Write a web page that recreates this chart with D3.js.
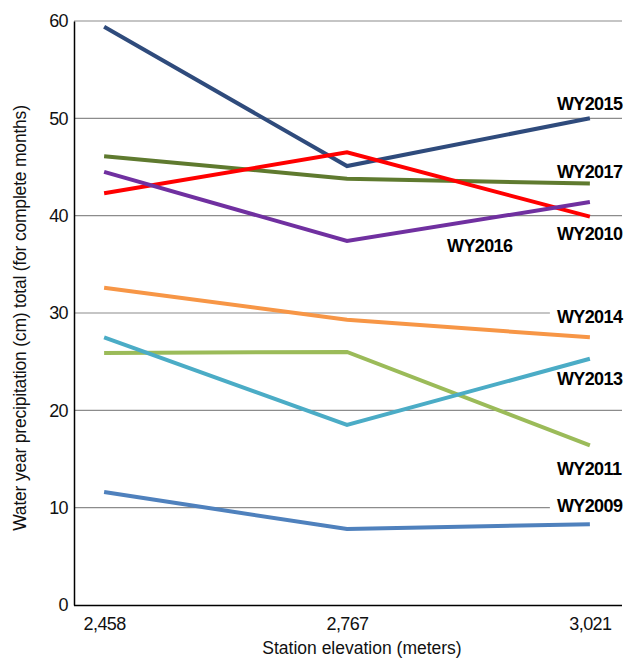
<!DOCTYPE html>
<html><head><meta charset="utf-8">
<script src="https://cdn.jsdelivr.net/npm/d3@7/dist/d3.min.js"></script>
<style>body{margin:0;background:#fff}svg{display:block}</style>
</head><body>
<svg id="c" width="624" height="658"></svg>
<script>
const elevations = ["2,458", "2,767", "3,021"];
const seriesNames = ["WY2015","WY2017","WY2010","WY2016","WY2014","WY2011","WY2013","WY2009"];
const wy2015 = [59.4, 45.1, 50.0];
const wy2017 = [46.1, 43.8, 43.3];
const wy2010 = [42.3, 46.5, 39.9];
const wy2016 = [44.5, 37.4, 41.4];
const wy2014 = [32.6, 29.3, 27.5];
const wy2011 = [25.9, 26.0, 16.4];
const wy2013 = [27.5, 18.5, 25.3];
const wy2009 = [11.6, 7.8, 8.3];
const yTicks = [0, 10, 20, 30, 40, 50, 60];

const values = [wy2015, wy2017, wy2010, wy2016, wy2014, wy2011, wy2013, wy2009];
const colors = ["#2F4B7C","#5F7A2F","#FF0000","#7030A0","#F79646","#9BBB59","#4BACC6","#4F81BD"];
// label placement: [point index, dx, dy] relative to that data point
const labelPos = [[2,-33,-8],[2,-33,-6],[2,-33,23],[1,100,11],[2,-33,-14],[2,-33,30],[2,-33,26],[2,-33,-12]];

const svg = d3.select("#c");
const L = 74, R = 620, T = 21, B = 605;
const x = d3.scalePoint().domain(elevations).range([L, R]).padding(0.124);
const y = d3.scaleLinear().domain([0, 60]).range([B, T]);
const font = "'Liberation Sans', Arial, sans-serif";

// gridlines
svg.append("g").selectAll("line").data(yTicks.filter(d => d > 0)).join("line")
  .attr("x1", L).attr("x2", 622)
  .attr("y1", d => y(d)).attr("y2", d => y(d))
  .attr("stroke", "#8c8c8c").attr("stroke-width", 1.2);

// label backgrounds (placed under lines)
const bgG = svg.append("g");

// axes
const yAxis = d3.axisLeft(y).tickValues(yTicks).tickSize(0).tickPadding(6);
const gy = svg.append("g").attr("transform", `translate(${L},0)`).call(yAxis);
gy.select(".domain").attr("stroke", "#000").attr("stroke-width", 1.5);
gy.selectAll("text").attr("font-family", font).attr("font-size", 18).attr("letter-spacing", "-0.6px").attr("fill", "#111");

const xAxis = d3.axisBottom(x).tickSize(0).tickPadding(12);
const gx = svg.append("g").attr("transform", `translate(0,${B})`).call(xAxis);
gx.select(".domain").attr("d", `M${L},0.5H622`).attr("stroke", "#000").attr("stroke-width", 1.5);
gx.selectAll("text").attr("font-family", font).attr("font-size", 18).attr("letter-spacing", "-0.6px").attr("fill", "#111");

// lines
const line = d3.line().x((d, i) => x(elevations[i])).y(d => y(d));
svg.append("g").selectAll("path").data(values).join("path")
  .attr("d", d => line(d)).attr("fill", "none")
  .attr("stroke", (d, i) => colors[i]).attr("stroke-width", 4)
  .attr("stroke-linejoin", "miter");

// labels
const lg = svg.append("g");
seriesNames.forEach((name, i) => {
  const [pi, dx, dy] = labelPos[i];
  const px = x(elevations[pi]) + dx, py = y(values[i][pi]) + dy;
  const t = lg.append("text").attr("x", px).attr("y", py)
    .attr("font-family", font).attr("font-weight", "bold").attr("font-size", 18)
    .attr("letter-spacing", "-0.6px")
    .attr("fill", "#000").text(name);
  const bb = t.node().getBBox();
  if (pi === 2) {
    bgG.append("rect").attr("x", bb.x - 7).attr("y", bb.y).attr("width", 624 - bb.x + 7).attr("height", bb.height).attr("fill", "#fff");
  }
});

// axis titles
svg.append("text").attr("x", 362).attr("y", 654).attr("text-anchor", "middle")
  .attr("font-family", font).attr("font-size", 17.5).attr("fill", "#111").text("Station elevation (meters)");
svg.append("text").attr("transform", `translate(26,${318}) rotate(-90)`).attr("text-anchor", "middle")
  .attr("font-family", font).attr("font-size", 17.5).attr("letter-spacing", "-0.2px").attr("fill", "#111")
  .text("Water year precipitation (cm) total (for complete months)");
</script>
</body></html>
